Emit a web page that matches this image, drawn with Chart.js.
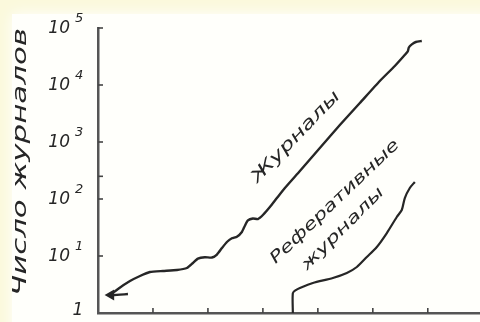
<!DOCTYPE html>
<html><head><meta charset="utf-8">
<script src="https://cdn.jsdelivr.net/npm/chart.js@4/dist/chart.umd.min.js"></script>
<style>html,body{margin:0;padding:0;background:#fbf9df;}#wrap{width:480px;height:322px;position:relative}</style>
</head><body><div id="wrap"><canvas id="c" width="480" height="322"></canvas></div>
<script>
// ---- data ----
const journalsX = [0.545,0.236,0.364,0.582,0.764,0.945,1.182,1.436,1.618,1.727,1.818,1.945,2.073,2.164,2.255,2.345,2.436,2.527,2.618,2.673,2.727,2.818,2.909,3.0,3.127,3.255,3.4,3.673,4.036,4.4,4.764,5.127,5.4,5.564,5.636,5.655,5.709,5.782,5.891];
const journalsY = [2.15,2.07,2.64,3.64,4.46,5.24,5.46,5.68,6.16,7.54,9.0,9.5,9.4,10.6,13.8,17.6,20.5,21.8,26.4,34,42,45.5,44.5,52.4,72.4,104,156,310,785,1990,4830,11750,21550,32260,38900,45500,51500,56800,59200];
const abstractX = [3.545,3.545,3.6,3.673,3.909,4.273,4.527,4.709,4.891,5.073,5.255,5.436,5.527,5.582,5.673,5.764];
const abstractY = [1,2.24,2.53,2.75,3.36,4.11,5.03,6.41,9.6,14.4,25.3,48.3,64.1,104,156,199];
const yTickValues = [1,10,100,1000,10000,100000];
const yTickBases = ['1','10','10','10','10','10'];
const yTickExps = ['','1','2','3','4','5'];
const yTickMarks = [10,100,250,1000,10000,100000];
const xTickMarks = [1,2,3,4,5,6];
const yTitle = 'Число журналов';
const label1 = 'Журналы';
const label2a = 'Реферативные';
const label2b = 'журналы';

const INK = '#262626';
const FONT = '"DejaVu Sans"';

function pts(xs, ys){ return xs.map((x,i)=>({x:x, y:ys[i]})); }

function drawFit(ctx, text, cx, cy, angle, width, font){
  ctx.save();
  ctx.font = font;
  const w = ctx.measureText(text).width;
  ctx.translate(cx, cy);
  ctx.rotate(angle*Math.PI/180);
  ctx.scale(width/w, 1);
  ctx.textAlign='center'; ctx.textBaseline='middle';
  ctx.fillStyle = INK;
  ctx.fillText(text, 0, 0);
  ctx.restore();
}

const bgPlugin = {
  id:'bg',
  beforeDraw(chart){
    const ctx = chart.ctx;
    ctx.save();
    ctx.fillStyle = '#fbf9dc';
    ctx.fillRect(0,0,chart.width,chart.height);
    ctx.shadowColor = '#ffffff';
    ctx.shadowBlur = 14;
    ctx.fillStyle = '#fffffb';
    ctx.fillRect(12,14,chart.width,chart.height);
    ctx.restore();
  }
};

const decoPlugin = {
  id:'deco',
  afterDraw(chart){
    const ctx = chart.ctx;
    const xs = chart.scales.x, ys = chart.scales.y;
    const a = chart.chartArea;
    ctx.save();
    ctx.strokeStyle = '#444';
    ctx.lineWidth = 1.6;
    yTickMarks.forEach(v=>{
      const py = ys.getPixelForValue(v);
      ctx.beginPath(); ctx.moveTo(a.left, py); ctx.lineTo(a.left+5, py); ctx.stroke();
    });
    xTickMarks.forEach(v=>{
      const px = xs.getPixelForValue(v);
      ctx.beginPath(); ctx.moveTo(px, a.bottom); ctx.lineTo(px, a.bottom-5); ctx.stroke();
    });
    ctx.fillStyle = INK;
    yTickValues.forEach((v,i)=>{
      const py = ys.getPixelForValue(v);
      if (yTickExps[i]===''){
        ctx.font = 'italic 17px '+FONT;
        ctx.textAlign='center'; ctx.textBaseline='middle';
        ctx.fillText(yTickBases[i], 78, py-2);
      } else {
        ctx.font = 'italic 17px '+FONT;
        ctx.textAlign='right'; ctx.textBaseline='middle';
        ctx.fillText(yTickBases[i], 70, py+1);
        ctx.font = 'italic 13px '+FONT;
        ctx.textAlign='left';
        ctx.fillText(yTickExps[i], 75, py-9);
      }
    });
    ctx.restore();
    drawFit(ctx, yTitle, 21, 162, -90, 268, 'italic 20px '+FONT);
    drawFit(ctx, label1, 296, 137, -46, 120, 'italic 17px '+FONT);
    drawFit(ctx, label2a, 335, 202, -43.6, 172, 'italic 16px '+FONT);
    drawFit(ctx, label2b, 343, 229, -45, 110, 'italic 16px '+FONT);
  }
};

new Chart(document.getElementById('c'), {
  type:'line',
  data:{
    datasets:[
      {data:pts(journalsX, journalsY), borderColor:INK, borderWidth:2.4, tension:0.15,
       pointRadius:(c)=>c.dataIndex===1?4:0, pointStyle:'triangle', pointRotation:-90,
       pointBackgroundColor:INK, pointBorderColor:INK},
      {data:pts(abstractX, abstractY), borderColor:INK, borderWidth:2.2, tension:0.25, pointRadius:0}
    ]
  },
  options:{
    responsive:false, animation:false, devicePixelRatio:1,
    layout:{padding:{left:98, top:28, right:0, bottom:9}},
    plugins:{legend:{display:false}, tooltip:{enabled:false}},
    scales:{
      x:{type:'linear', min:0, max:6.95, ticks:{display:false}, grid:{display:false},
         border:{display:true, color:'#555', width:2.5}, afterFit:(s)=>{s.height=0;}},
      y:{type:'logarithmic', min:1, max:100000, ticks:{display:false}, grid:{display:false},
         border:{display:true, color:'#555', width:2.5}, afterFit:(s)=>{s.width=0;}}
    }
  },
  plugins:[bgPlugin, decoPlugin]
});
</script>
</body></html>
